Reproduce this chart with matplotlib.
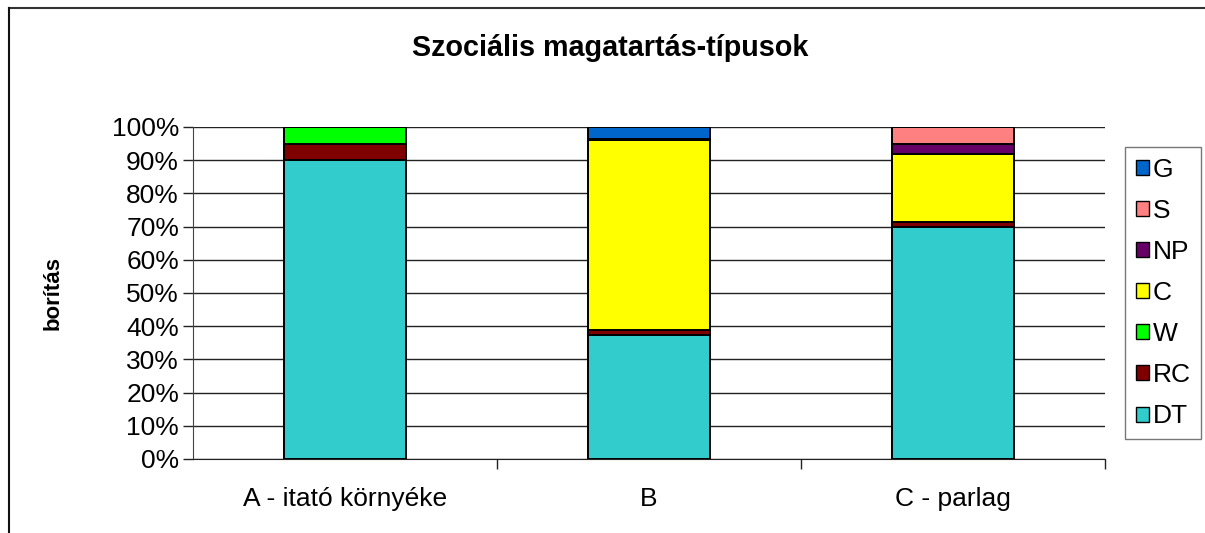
import matplotlib
matplotlib.use("Agg")
import matplotlib.pyplot as plt
from matplotlib.lines import Line2D
from matplotlib.patches import Patch
from matplotlib.ticker import FuncFormatter, MultipleLocator

plt.rcParams['font.family'] = ['Liberation Sans', 'DejaVu Sans']

categories = ["A - itató környéke", "B", "C - parlag"]
series_names = ["DT", "RC", "W", "C", "NP", "S", "G"]
DT = [90.0, 37.5, 70.0]
RC = [5.0, 1.5, 1.5]
W = [5.0, 0.0, 0.0]
C = [0.0, 57.0, 20.5]
NP = [0.0, 0.5, 3.0]
S = [0.0, 0.0, 5.0]
G = [0.0, 3.5, 0.0]
colors = {"DT": "#33CCCC", "RC": "#800000", "W": "#00FF00", "C": "#FFFF00",
          "NP": "#660066", "S": "#FF8080", "G": "#0066CC"}
values = {"DT": DT, "RC": RC, "W": W, "C": C, "NP": NP, "S": S, "G": G}

W_PX, H_PX = 1205, 533
fig = plt.figure(figsize=(W_PX / 100, H_PX / 100), dpi=100)
ax = fig.add_axes([193 / W_PX, 1 - 459 / H_PX, (1105 - 193) / W_PX, (459 - 127) / H_PX])

x = list(range(len(categories)))
bottom = [0.0] * len(categories)
for name in series_names:
    vals = values[name]
    ax.bar(x, vals, width=0.4, bottom=bottom, color=colors[name],
           edgecolor="black", linewidth=1.4, zorder=3)
    bottom = [b + v for b, v in zip(bottom, vals)]

ax.set_xlim(-0.5, 2.5)
ax.set_ylim(0, 100)
ax.yaxis.set_major_locator(MultipleLocator(10))
ax.yaxis.set_major_formatter(FuncFormatter(lambda v, p: f"{int(round(v))}%"))
ax.set_xticks(x)
ax.set_xticklabels(categories, fontsize=19)
ax.set_xticks([0.5, 1.5, 2.5], minor=True)
ax.tick_params(axis='x', which='major', length=0, pad=20)
ax.tick_params(axis='x', which='minor', length=7, width=1, color="#222222", direction="out")
ax.tick_params(axis='y', length=7, width=1, color="#222222", labelsize=19, pad=3)
ax.yaxis.grid(True, color="#222222", linewidth=1, zorder=0)
for sp in ["top", "right"]:
    ax.spines[sp].set_visible(False)
ax.spines["left"].set_color("#444444")
ax.spines["bottom"].set_color("#222222")
ax.set_ylabel("borítás", fontsize=16, fontweight="bold", labelpad=35)

fig.text(610 / W_PX, 1 - 48 / H_PX, "Szociális magatartás-típusok", fontsize=20.7,
         fontweight="bold", ha="center", va="center")

handles = [Patch(facecolor=colors[n], edgecolor="black", label=n) for n in reversed(series_names)]
leg = fig.legend(handles=handles, loc="upper left",
                 bbox_to_anchor=(1125 / W_PX, 1 - 147 / H_PX),
                 fontsize=19, frameon=True, fancybox=False, handlelength=0.5,
                 handleheight=0.5, handletextpad=0.15, labelspacing=0.65,
                 borderpad=0.4, borderaxespad=0)
leg.get_frame().set_edgecolor("#555555")
leg.get_frame().set_linewidth(1)

fig.add_artist(Line2D([9 / W_PX, 1.0], [1 - 8 / H_PX, 1 - 8 / H_PX], color="#333333", linewidth=1.5))
fig.add_artist(Line2D([9 / W_PX, 9 / W_PX], [1 - 8 / H_PX, 0.0], color="#111111", linewidth=1.5))

fig.savefig("out.png", dpi=100)
